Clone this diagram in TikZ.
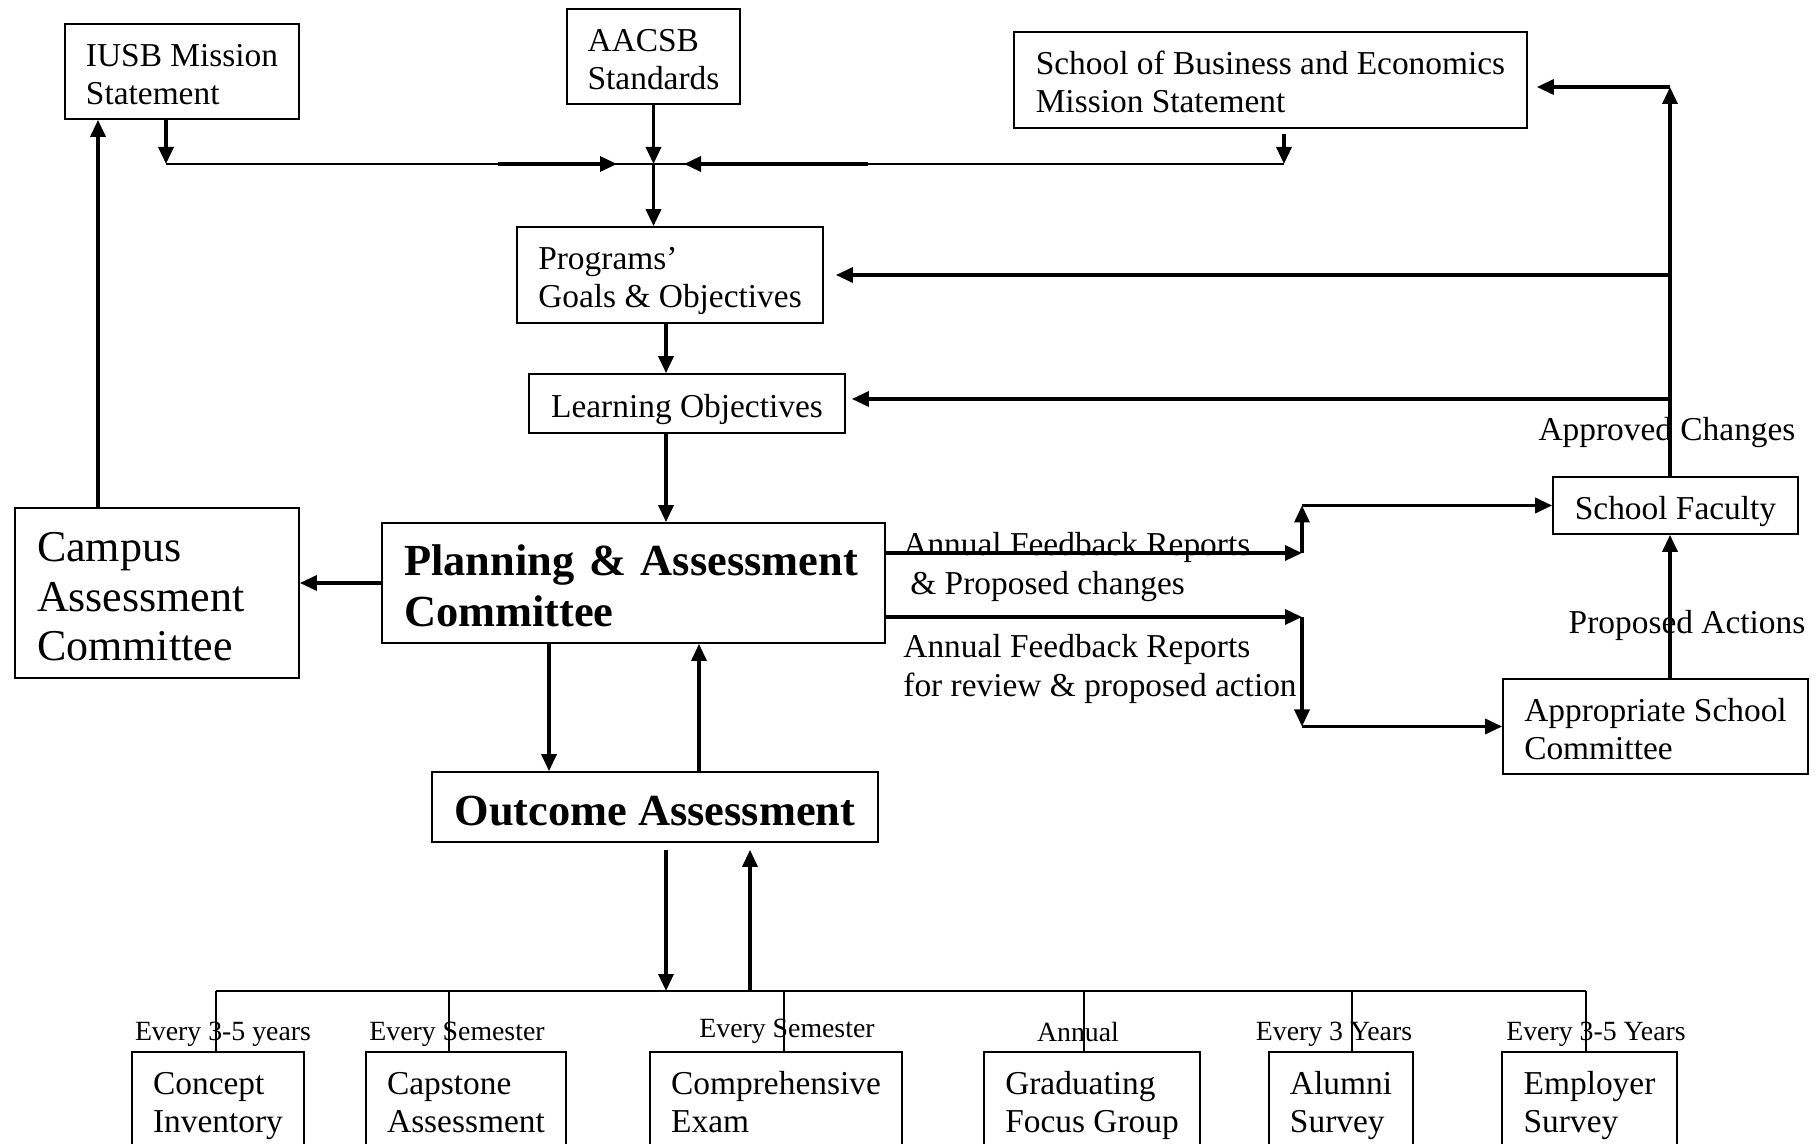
\documentclass[tikz,border=0pt]{standalone}
\usepackage{fontspec}
\setmainfont{Liberation Serif}
\usetikzlibrary{arrows.meta}
\newcommand{\tstr}{\rule{0pt}{1.12em}}
\newcommand{\bstr}{\rule[-0.3em]{0pt}{0.3em}}
\tikzset{%
	blk/.style={draw, line width=0.85pt, align=left, inner xsep=4pt, inner ysep=0pt, font=\fontsize{16.7}{19}\selectfont,
		execute at end node=\bstr},
	bigblk/.style={blk, font=\fontsize{22.2}{25.5}\selectfont\bfseries},
	campblk/.style={blk, font=\fontsize{22}{24.75}\selectfont},
	fl/.style={line width=1.7pt, -{Triangle[length=8.5pt,width=7.5pt]}},
	ln/.style={line width=0.7pt},
	lbl/.style={align=left, inner sep=0pt, font=\fontsize{16.7}{19.5}\selectfont},
	freq/.style={inner sep=0pt, font=\fontsize{13.9}{16}\selectfont}
}

\begin{document}
\begin{tikzpicture}[x=0.5pt, y=-0.5pt]
	\useasboundingbox (0,0) rectangle (1817,1144);

	\node[blk, minimum width=117pt, minimum height=47.5pt] (iusb) at (182,71.5) {\tstr IUSB Mission\\Statement};
	\node[blk, minimum width=86.5pt, minimum height=47.5pt] (aacsb) at (653.5,56.5) {\tstr AACSB\\Standards};
	\node[blk, minimum width=256.5pt, minimum height=48pt] (sbe) at (1270.5,80) {\tstr School of Business and Economics\\Mission Statement};
	\node[blk, minimum width=153pt, minimum height=48pt] (prog) at (670,275) {\tstr Programs'\\Goals \& Objectives};
	\node[blk, minimum width=158pt, minimum height=29.5pt] (lobj) at (687,403.5) {\tstr Learning Objectives};
	\node[bigblk, text width=229.5pt, inner xsep=11pt, minimum height=60pt] (plan) at (633.5,583) {\tstr Planning \& Assessment\\Committee};
	\node[campblk, text width=120pt, inner xsep=11pt, minimum height=85pt] (camp) at (157,593) {\tstr Campus\\Assessment\\Committee};
	\node[bigblk, minimum width=223pt, minimum height=35pt] (outc) at (655,807) {\tstr Outcome Assessment};
	\node[blk, minimum width=122.5pt, minimum height=28.5pt] (fac) at (1675.5,505.5) {\tstr School Faculty};
	\node[blk, minimum width=152.5pt, minimum height=47.5pt] (apsc) at (1655.5,726.5) {\tstr Appropriate School\\Committee};

	\node[blk, minimum width=86pt, minimum height=48pt] (cinv) at (218,1100) {\tstr Concept\\Inventory};
	\node[blk, minimum width=100pt, minimum height=48pt] (caps) at (466,1100) {\tstr Capstone\\Assessment};
	\node[blk, minimum width=126pt, minimum height=48pt] (comp) at (776,1100) {\tstr Comprehensive\\Exam};
	\node[blk, minimum width=108pt, minimum height=48pt] (grad) at (1092,1100) {\tstr Graduating\\Focus Group};
	\node[blk, minimum width=72pt, minimum height=48pt] (alum) at (1341,1100) {\tstr Alumni\\Survey};
	\node[blk, minimum width=87.5pt, minimum height=48pt] (empl) at (1589.5,1100) {\tstr Employer\\Survey};

	\node[freq] (f1) at (223,1034.5) {Every 3-5 years};
	\node[freq] (f2) at (457,1034.5) {Every Semester};
	\node[freq] (f3) at (787,1031.5) {Every Semester};
	\node[freq] (f4) at (1078,1032) {Annual};
	\node[freq] (f5) at (1334,1034.5) {Every 3 Years};
	\node[freq] (f6) at (1596,1034.5) {Every 3-5 Years};

	\node[lbl, anchor=west] (fb1) at (903,567.5) {Annual Feedback Reports\\\hspace*{3.5pt}\& Proposed changes};
	\node[lbl, anchor=west] (fb2) at (903,669) {Annual Feedback Reports\\for review \& proposed action};
	\node[lbl] (appr) at (1667,432.5) {Approved Changes};
	\node[lbl] (prop) at (1687,625.5) {Proposed Actions};

	\coordinate (jl) at (166,164);
	\coordinate (jr) at (1284,164);
	\coordinate (jc) at (aacsb.south |- jl);
	\coordinate (rt) at (1670,87);
	\coordinate (u1) at (1302,553);
	\coordinate (d1) at (1302,617);
	\coordinate (bl) at (216,991);
	\coordinate (br) at (1586,991);

	% mission statements and standards
	\draw[ln] (jl) -- (jr);
	\draw[fl] (jl |- iusb.south) -- (jl);
	\draw[fl] ([yshift=-2.5pt]sbe.south -| jr) -- (jr);
	\draw[fl] (aacsb.south) -- (jc);
	\draw[fl] (jc) -- (jc |- prog.north);
	\draw[fl] ([xshift=-77.75pt]jc) -- ([xshift=-18.25pt]jc);
	\draw[fl] ([xshift=107.25pt]jc) -- ([xshift=15.25pt]jc);

	\draw[fl] ([xshift=-2pt]prog.south) -- ([xshift=-2pt]prog.south |- lobj.north);
	\draw[fl] ([xshift=-10.5pt]lobj.south) -- ([xshift=-10.5pt]lobj.south |- plan.north);
	\draw[fl] (plan.west) -- (plan.west -| camp.east);
	\draw[fl] ([xshift=-29.5pt]camp.north) -- ([xshift=-29.5pt]camp.north |- iusb.south);
	\draw[fl] ([xshift=-42.25pt]plan.south) -- ([xshift=-42.25pt]plan.south |- outc.north);
	\draw[fl] ([xshift=22pt]outc.north) -- ([xshift=22pt]outc.north |- plan.south);
	\draw[fl] ([xshift=5.5pt,yshift=-3.5pt]outc.south) -- ([xshift=5.5pt]outc.south |- bl);
	\draw[fl] ([xshift=47.5pt]outc.south |- bl) -- ([xshift=47.5pt,yshift=-3.5pt]outc.south);

	% assessment tools
	\draw[ln] (bl) -- (br);
	\foreach \b/\dx in {cinv/-1, caps/-8.5, comp/4, grad/-4, alum/5.5, empl/-1.75}
		\draw[ln] ([xshift=\dx pt]\b.north) -- ([xshift=\dx pt]\b.north |- bl);

	% feedback loop
	\draw[fl] (plan.east |- u1) -- (u1);
	\draw[fl] (u1) -- (u1 |- fac.west);
	\draw[fl] (u1 |- fac.west) -- (fac.west);
	\draw[fl] (plan.east |- d1) -- (d1);
	\draw[fl] (d1) -- (d1 |- apsc.west);
	\draw[fl] (d1 |- apsc.west) -- (apsc.west);
	\draw[fl] ([xshift=7.25pt]apsc.north) -- ([xshift=7.25pt]apsc.north |- fac.south);

	\draw[fl] (rt |- fac.north) -- (rt);
	\draw[fl] (rt) -- ([xshift=4.5pt]sbe.east |- rt);
	\draw[fl] (rt |- prog.east) -- ([xshift=6pt]prog.east);
	\draw[fl] ([yshift=2.25pt]lobj.east -| rt) -- ([xshift=3pt,yshift=2.25pt]lobj.east);
\end{tikzpicture}
\end{document}
